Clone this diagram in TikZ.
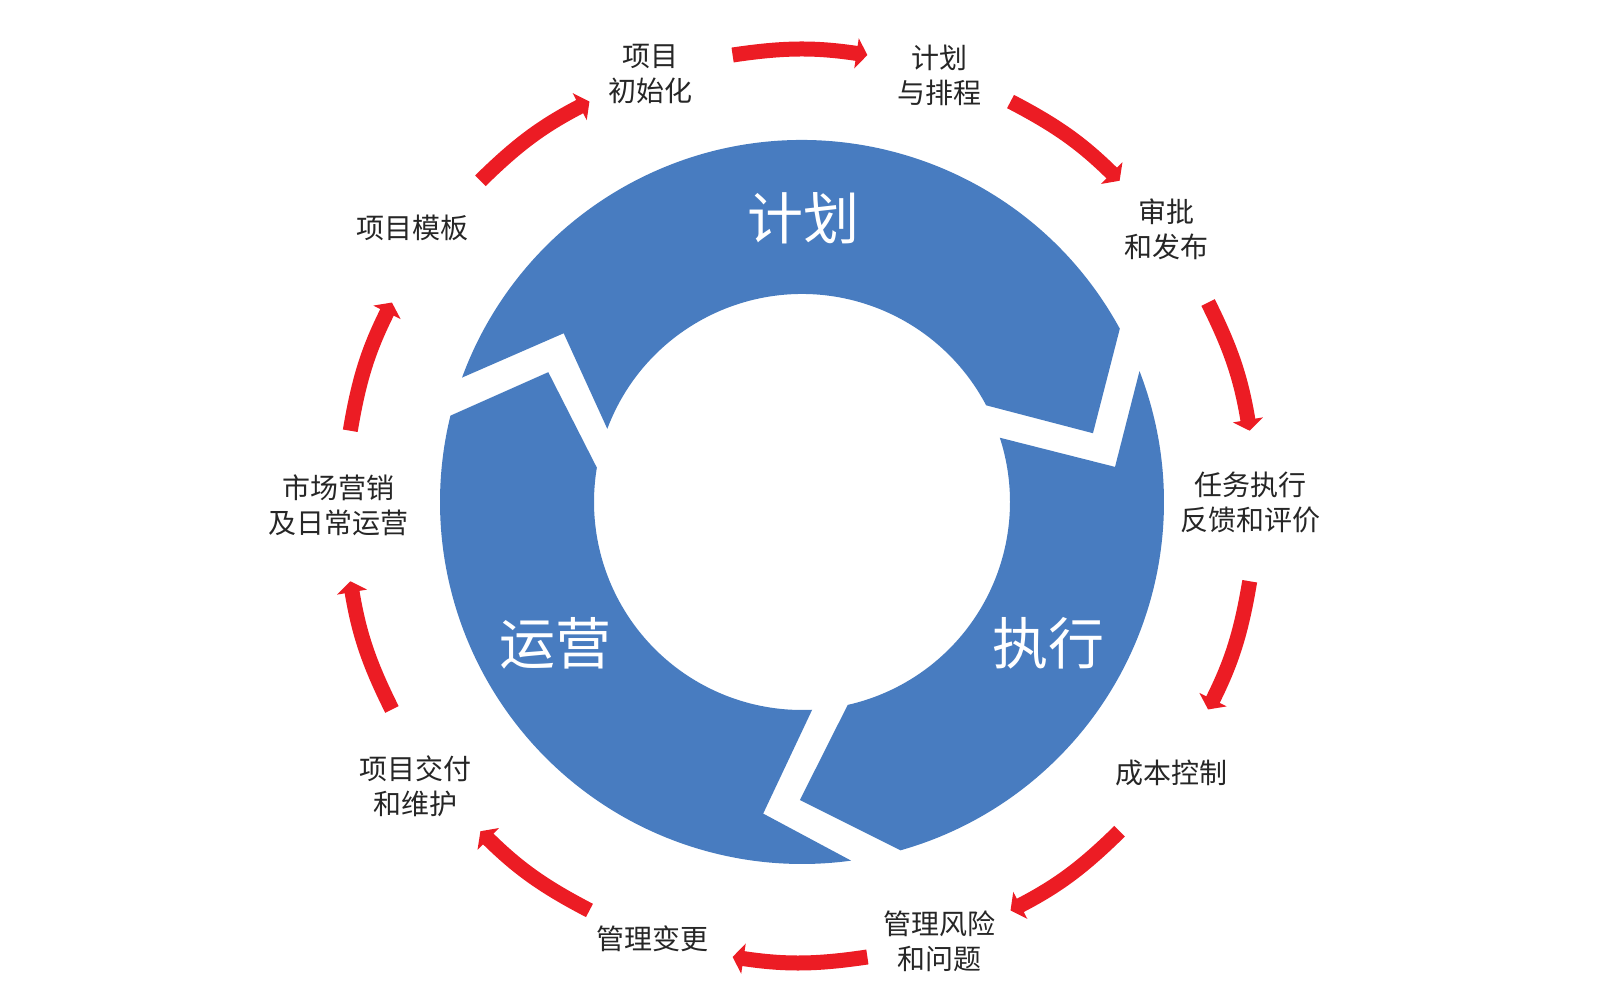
\documentclass[tikz,border=0pt]{standalone}
\usepackage{fontspec}
\newfontfamily\cjk{Noto Sans CJK SC}
\usepackage{tikz}
\usetikzlibrary{arrows.meta}
\definecolor{ringblue}{RGB}{72,124,192}
\definecolor{arrowred}{RGB}{236,28,36}

\begin{document}
\begin{tikzpicture}[x = 1pt, y = 1pt,
    steplabel/.style = {align=center, text=black!85, font=\cjk\fontsize{28}{35}\selectfont},
    phase/.style = {text=white, font=\cjk\fontsize{56}{60}\selectfont},
    cyclearrow/.style = {draw=arrowred, line width=15pt, -{Triangle[length=11pt, width=30pt]}}]

    \useasboundingbox (-802,-498) rectangle (798,502);

    % ring of three phases
    \fill [ringblue] (159.9:362) -- (144.7:292) -- (159.4:208) arc [start angle=159.4, end angle=27.7, radius=208]
        -- (13.3:299) -- (28.6:362) arc [start angle=28.6, end angle=159.9, radius=362] -- cycle;
    \fill [ringblue] (21.2:362) -- (6.4:315) -- (18:208) arc [start angle=18, end angle=-77.3, radius=208]
        -- (-90.4:298) -- (-74.2:362) arc [start angle=-74.2, end angle=21.2, radius=362] -- cycle;
    \fill [ringblue] (-82.2:362) -- (-97.1:314) -- (-87.2:208) arc [start angle=-87.2, end angle=-189.5, radius=208]
        -- (152.9:285) -- (166.2:362) arc [start angle=166.2, end angle=277.8, radius=362] -- cycle;

    \node[phase] (plan) at (1,284) {计划};
    \node[phase] (exec) at (246,-141) {执行};
    \node[phase] (oper) at (-246,-141) {运营};

    % steps
    \node[steplabel] (init) at (-151,428) {项目\\初始化};
    \node[steplabel] (schedule) at (137,427) {计划\\与排程};
    \node[steplabel] (approve) at (364,273) {审批\\和发布};
    \node[steplabel] (feedback) at (448,0) {任务执行\\反馈和评价};
    \node[steplabel] (cost) at (369,-271) {成本控制};
    \node[steplabel] (risk) at (137,-439) {管理风险\\和问题};
    \node[steplabel] (change) at (-149,-437) {管理变更};
    \node[steplabel] (deliver) at (-386,-284) {项目交付\\和维护};
    \node[steplabel] (market) at (-463,-3) {市场营销\\及日常运营};
    \node[steplabel] (template) at (-389,274) {项目模板};

    % red arrows between the steps
    \begin{scope}[shift={(-2,-4)}]
        \coordinate (a1) at (134.5:456);   \coordinate (b1) at (117.5:456);
        \coordinate (a2) at (98.5:456);    \coordinate (b2) at (81.5:456);
        \coordinate (a3) at (62.5:456);    \coordinate (b3) at (45.5:456);
        \coordinate (a4) at (26.5:456);    \coordinate (b4) at (9.5:456);
        \coordinate (a5) at (-9.5:456);    \coordinate (b5) at (-26.5:456);
        \coordinate (a6) at (-45.5:456);   \coordinate (b6) at (-62.5:456);
        \coordinate (a7) at (-81.5:456);   \coordinate (b7) at (-98.5:456);
        \coordinate (a8) at (-117.5:456);  \coordinate (b8) at (-134.5:456);
        \coordinate (a9) at (-153.5:456);  \coordinate (b9) at (-170.5:456);
        \coordinate (a10) at (170.5:456);  \coordinate (b10) at (153.5:456);
    \end{scope}

    \draw[cyclearrow] (a1) to[bend left=8.5] (b1);
    \draw[cyclearrow] (a2) to[bend left=8.5] (b2);
    \draw[cyclearrow] (a3) to[bend left=8.5] (b3);
    \draw[cyclearrow] (a4) to[bend left=8.5] (b4);
    \draw[cyclearrow] (a5) to[bend left=8.5] (b5);
    \draw[cyclearrow] (a6) to[bend left=8.5] (b6);
    \draw[cyclearrow] (a7) to[bend left=8.5] (b7);
    \draw[cyclearrow] (a8) to[bend left=8.5] (b8);
    \draw[cyclearrow] (a9) to[bend left=8.5] (b9);
    \draw[cyclearrow] (a10) to[bend left=8.5] (b10);

\end{tikzpicture}
\end{document}
